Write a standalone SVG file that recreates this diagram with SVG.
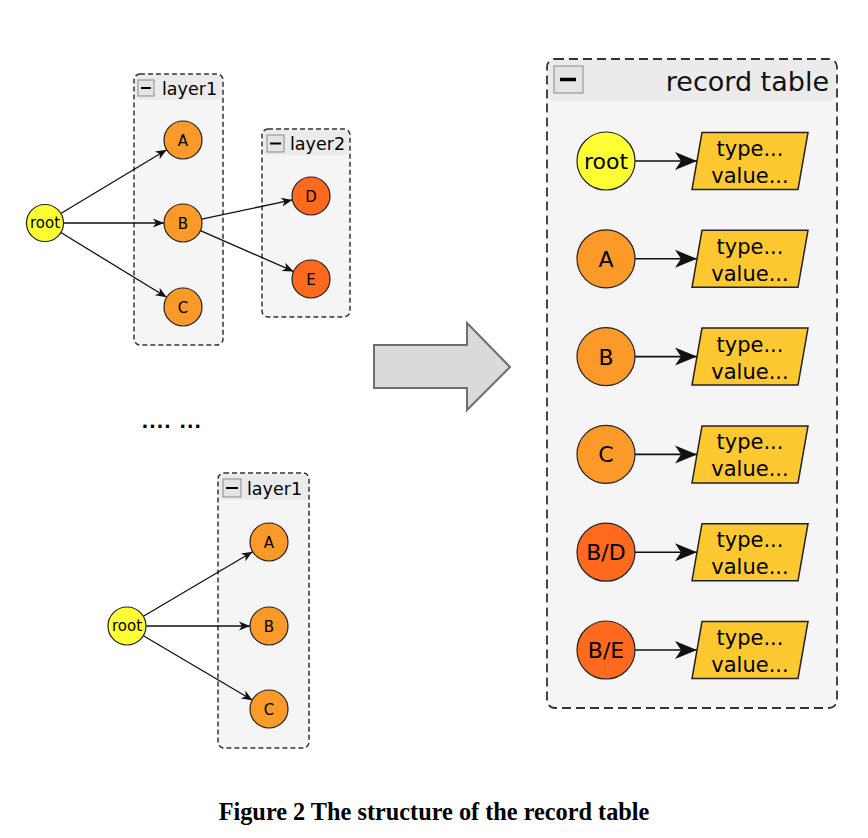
<svg xmlns="http://www.w3.org/2000/svg" width="868" height="838" viewBox="0 0 868 838">
<style>
.bg{fill:#ffffff}
.cont{fill:#f5f5f5;stroke:none}
.hdr{fill:#ebebeb;stroke:none}
.cb{fill:none;stroke:#333333;stroke-width:1.5;stroke-dasharray:5,3}
.cbl{fill:none;stroke:#333333;stroke-width:1.8;stroke-dasharray:9,5}
.mbox{fill:#e4e4e4;stroke:#8a8a8a;stroke-width:1}
.minus{stroke:#000;stroke-width:2}
.ct{font-family:"DejaVu Sans",sans-serif;font-size:17.5px;fill:#000}
.yel{fill:#ffff33;stroke:#222;stroke-width:1.2}
.org{fill:#fb9a28;stroke:#222;stroke-width:1.2}
.red{fill:#ff6a1f;stroke:#222;stroke-width:1.2}
.pg{fill:#fec930;stroke:#222;stroke-width:1.5}
.st{font-family:"DejaVu Sans",sans-serif;font-size:15px;fill:#000;text-anchor:middle}
.bt{font-family:"DejaVu Sans",sans-serif;font-size:22px;fill:#000;text-anchor:middle}
.pt{font-family:"DejaVu Sans",sans-serif;font-size:21px;fill:#000;text-anchor:middle}
.e{fill:none;stroke:#111;stroke-width:1.3;marker-end:url(#ah)}
.el{fill:none;stroke:#111;stroke-width:1.6;marker-end:url(#ahl)}
</style>
<defs>
<marker id="ah" viewBox="-11 -6 12 12" refX="0" refY="0" markerWidth="12" markerHeight="12" orient="auto" markerUnits="userSpaceOnUse">
<path d="M0,0 L-11,-4.5 L-8,0 L-11,4.5 Z" fill="#111"/>
</marker>
<marker id="ahl" viewBox="-23 -10 24 20" refX="0" refY="0" markerWidth="24" markerHeight="20" orient="auto" markerUnits="userSpaceOnUse">
<path d="M0,0 L-22,-9 L-16,0 L-22,9 Z" fill="#111"/>
</marker>
</defs>
<rect class="bg" x="0" y="0" width="868" height="838"/>

<!-- top-left containers -->
<g id="layer1-top">
<rect class="cont" x="134" y="74" width="89" height="271" rx="6"/>
<rect class="hdr" x="135" y="75" width="87" height="25" rx="5"/>
<rect class="cb" x="134" y="74" width="89" height="271" rx="6"/>
<rect class="mbox" x="138" y="80" width="16" height="16"/>
<line class="minus" x1="141" y1="88" x2="151" y2="88"/>
<text class="ct" x="162" y="95">layer1</text>
</g>
<g id="layer2-top">
<rect class="cont" x="262" y="129" width="88" height="188" rx="6"/>
<rect class="hdr" x="263" y="130" width="86" height="25" rx="5"/>
<rect class="cb" x="262" y="129" width="88" height="188" rx="6"/>
<rect class="mbox" x="267" y="135" width="17" height="17"/>
<line class="minus" x1="270" y1="143.5" x2="281" y2="143.5"/>
<text class="ct" x="290" y="150">layer2</text>
</g>
<g id="layer1-bottom">
<rect class="cont" x="218" y="473" width="91" height="275" rx="6"/>
<rect class="hdr" x="219" y="474" width="89" height="26" rx="5"/>
<rect class="cb" x="218" y="473" width="91" height="275" rx="6"/>
<rect class="mbox" x="223" y="479" width="18" height="18"/>
<line class="minus" x1="226" y1="488" x2="238" y2="488"/>
<text class="ct" x="247" y="495">layer1</text>
</g>
<g id="record-table">
<rect class="cont" x="547" y="59" width="290" height="649" rx="8"/>
<rect class="hdr" x="548" y="60" width="288" height="41" rx="7"/>
<rect class="cbl" x="547" y="59" width="290" height="649" rx="8"/>
<rect class="mbox" x="554" y="66" width="29" height="27" stroke="#777"/>
<line x1="560" y1="79.5" x2="576" y2="79.5" stroke="#000" stroke-width="3.5"/>
<text x="829" y="91" font-family="'DejaVu Sans',sans-serif" font-size="27" text-anchor="end" fill="#111">record table</text>
</g>

<!-- connectors -->
<g id="connectors">
<line class="e" x1="60.4" y1="213.7" x2="166.7" y2="149.8"/>
<line class="e" x1="63" y1="223" x2="164" y2="223"/>
<line class="e" x1="60.4" y1="232.3" x2="166.7" y2="297.2"/>
<line class="e" x1="201.6" y1="219.1" x2="292.4" y2="199.9"/>
<line class="e" x1="200.4" y1="230.6" x2="293.6" y2="271.4"/>
<line class="e" x1="143.4" y1="616.3" x2="252.6" y2="551.7"/>
<line class="e" x1="146" y1="626" x2="250" y2="626"/>
<line class="e" x1="143.4" y1="635.7" x2="252.6" y2="700.3"/>
<line class="el" x1="635" y1="161" x2="697" y2="161"/>
<line class="el" x1="635" y1="258.8" x2="697" y2="258.8"/>
<line class="el" x1="635" y1="356.6" x2="697" y2="356.6"/>
<line class="el" x1="635" y1="454.4" x2="697" y2="454.4"/>
<line class="el" x1="635" y1="552.2" x2="697" y2="552.2"/>
<line class="el" x1="635" y1="650" x2="697" y2="650"/>
</g>

<!-- top-left nodes -->
<g id="n-root-top"><circle class="yel" cx="45" cy="223" r="18.5"/><text class="st" x="45" y="228">root</text></g>
<g id="n-A-top"><circle class="org" cx="183" cy="140" r="19"/><text class="st" x="183" y="145.5">A</text></g>
<g id="n-B-top"><circle class="org" cx="183" cy="223" r="19"/><text class="st" x="183" y="228.5">B</text></g>
<g id="n-C-top"><circle class="org" cx="183" cy="307" r="19"/><text class="st" x="183" y="312.5">C</text></g>
<g id="n-D-top"><circle class="red" cx="311" cy="196" r="19"/><text class="st" x="311" y="201.5">D</text></g>
<g id="n-E-top"><circle class="red" cx="311" cy="279" r="19"/><text class="st" x="311" y="284.5">E</text></g>

<!-- bottom-left nodes -->
<g id="n-root-bot"><circle class="yel" cx="127" cy="626" r="19"/><text class="st" x="127" y="631">root</text></g>
<g id="n-A-bot"><circle class="org" cx="269" cy="542" r="19"/><text class="st" x="269" y="547.5">A</text></g>
<g id="n-B-bot"><circle class="org" cx="269" cy="626" r="19"/><text class="st" x="269" y="631.5">B</text></g>
<g id="n-C-bot"><circle class="org" cx="269" cy="709" r="19"/><text class="st" x="269" y="714.5">C</text></g>

<!-- ellipsis -->
<g id="ellipsis">
<text x="145 152.5 160 167.3 182.7 190.2 197.7" y="428" font-family="'DejaVu Sans',sans-serif" font-weight="bold" font-size="18" text-anchor="middle" fill="#000">.......</text>
</g>

<!-- big arrow -->
<g id="big-arrow">
<polygon points="374,345 467,345 467,323 510,367 467,410 467,388 374,388" fill="#dadada" stroke="#6f6f6f" stroke-width="2"/>
</g>

<!-- record table entries -->
<g id="r-root"><circle class="yel" cx="606" cy="161" r="29"/><text class="bt" x="606" y="169">root</text></g>
<g id="p-root"><polygon class="pg" points="702,132.5 808,132.5 798,189.5 692,189.5"/><text class="pt" x="750" y="156">type...</text><text class="pt" x="750" y="183">value...</text></g>
<g id="r-A"><circle class="org" cx="606" cy="258.8" r="29"/><text class="bt" x="606" y="266.8">A</text></g>
<g id="p-A"><polygon class="pg" points="702,230.3 808,230.3 798,287.3 692,287.3"/><text class="pt" x="750" y="253.8">type...</text><text class="pt" x="750" y="280.8">value...</text></g>
<g id="r-B"><circle class="org" cx="606" cy="356.6" r="29"/><text class="bt" x="606" y="364.6">B</text></g>
<g id="p-B"><polygon class="pg" points="702,328.1 808,328.1 798,385.1 692,385.1"/><text class="pt" x="750" y="351.6">type...</text><text class="pt" x="750" y="378.6">value...</text></g>
<g id="r-C"><circle class="org" cx="606" cy="454.4" r="29"/><text class="bt" x="606" y="462.4">C</text></g>
<g id="p-C"><polygon class="pg" points="702,425.9 808,425.9 798,482.9 692,482.9"/><text class="pt" x="750" y="449.4">type...</text><text class="pt" x="750" y="476.4">value...</text></g>
<g id="r-BD"><circle class="red" cx="606" cy="552.2" r="29"/><text class="bt" x="606" y="560.2">B/D</text></g>
<g id="p-BD"><polygon class="pg" points="702,523.7 808,523.7 798,580.7 692,580.7"/><text class="pt" x="750" y="547.2">type...</text><text class="pt" x="750" y="574.2">value...</text></g>
<g id="r-BE"><circle class="red" cx="606" cy="650" r="29"/><text class="bt" x="606" y="658">B/E</text></g>
<g id="p-BE"><polygon class="pg" points="702,621.5 808,621.5 798,678.5 692,678.5"/><text class="pt" x="750" y="645">type...</text><text class="pt" x="750" y="672">value...</text></g>

<text x="434" y="820" font-family="'Liberation Serif',serif" font-weight="bold" font-size="24.3" text-anchor="middle" fill="#000">Figure 2 The structure of the record table</text>
</svg>
